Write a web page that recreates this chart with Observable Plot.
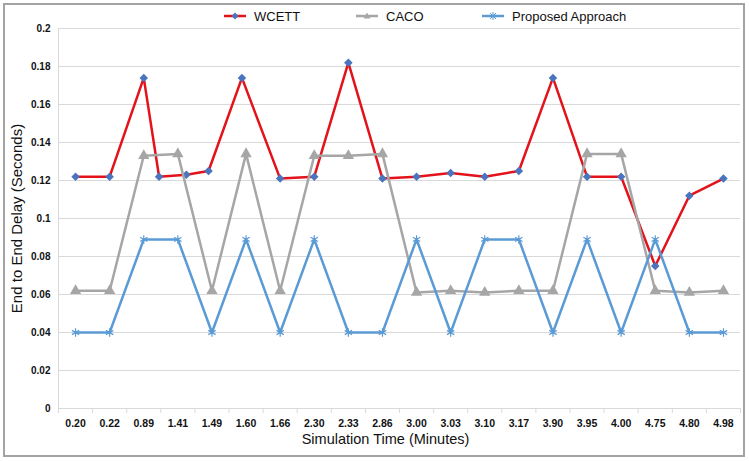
<!DOCTYPE html>
<html><head><meta charset="utf-8">
<script src="https://cdn.jsdelivr.net/npm/d3@7"></script>
<script src="https://cdn.jsdelivr.net/npm/@observablehq/plot@0.6"></script>
<style>
body{margin:0;background:#fff;}
#wrap{position:relative;width:749px;height:461px;overflow:hidden;font-family:Arial,"Liberation Sans",sans-serif;background:#fff;}
#frame{position:absolute;left:3px;top:3px;width:742px;height:454px;border:2px solid #a3a3a3;box-sizing:border-box;}
#chart{position:absolute;left:0;top:0;}
#legend{position:absolute;top:7px;left:0;width:749px;height:18px;font-size:13px;color:#111;}
.item{position:absolute;top:0;height:18px;display:flex;align-items:center;}
.item svg{margin-right:8px;}
</style></head>
<body>
<div id="wrap"><div id="frame"></div><div id="chart"></div><div id="legend"></div></div>
<script>
// ---- data ----
const times = ["0.20","0.22","0.89","1.41","1.49","1.60","1.66","2.30","2.33","2.86","3.00","3.03","3.10","3.17","3.90","3.95","4.00","4.75","4.80","4.98"];
const caco = [0.062,0.062,0.133,0.134,0.062,0.134,0.062,0.133,0.133,0.134,0.061,0.062,0.061,0.062,0.062,0.134,0.134,0.062,0.061,0.062];
const proposed = [0.04,0.04,0.089,0.089,0.04,0.089,0.04,0.089,0.04,0.04,0.089,0.04,0.089,0.089,0.04,0.089,0.04,0.089,0.04,0.04];
// WCETT has 21 points in the picture; positions along the category axis (index units)
const wcettPos = [0,1,2,2.45,3.25,3.9,4.88,6,7,8,9,10,11,12,13,14,15,16,17,18,19];
const wcett = [0.122,0.122,0.174,0.122,0.123,0.125,0.174,0.121,0.122,0.182,0.121,0.122,0.124,0.122,0.125,0.174,0.122,0.122,0.075,0.112,0.121];
const yTicks = [0,0.02,0.04,0.06,0.08,0.1,0.12,0.14,0.16,0.18,0.2];
const seriesNames = ["WCETT","CACO","Proposed Approach"];

const colors = {red:"#e3121b", diamond:"#4a74bd", gray:"#a6a6a6", blue:"#5b9bd5"};
const idx = d3.range(times.length);
const boundaries = d3.range(times.length + 1).map(i => i - 0.5);
const wData = wcett.map((v,i) => ({x: wcettPos[i], y: v}));
const cData = caco.map((v,i) => ({x: i, y: v}));
const pData = proposed.map((v,i) => ({x: i, y: v}));
const narrow = '"Liberation Sans Narrow","Arial Narrow",Arial,sans-serif';

const chart = Plot.plot({
  width: 749, height: 461,
  marginTop: 28, marginBottom: 53, marginLeft: 58, marginRight: 9,
  style: {background: "transparent", fontFamily: "Arial, 'Liberation Sans', sans-serif", color: "#111"},
  x: {domain: [-0.5, 19.5]},
  y: {domain: [0, 0.2]},
  marks: [
    Plot.gridY(yTicks, {stroke: "#d9d9d9", strokeOpacity: 1, strokeWidth: 1}),
    Plot.ruleX([-0.5], {stroke: "#d9d9d9"}),
    Plot.ruleY([0], {stroke: "#d9d9d9"}),
    Plot.axisY(yTicks, {tickSize: 0, tickPadding: 8, label: null, tickFormat: d => String(+d.toFixed(2)), fontSize: 10, fontWeight: "bold", fontFamily: narrow}),
    Plot.axisX(boundaries, {tickSize: 5, tickFormat: () => "", stroke: "#d9d9d9", label: null}),
    Plot.axisX(idx, {tickSize: 0, tickPadding: 11, label: null, tickFormat: i => times[i], fontSize: 10.5, fontWeight: "bold", fontFamily: narrow}),
    Plot.text(["Simulation Time (Minutes)"], {frameAnchor: "bottom", dy: 35, dx: -14, fontSize: 14.5, fill: "#111"}),
    Plot.text(["End to End Delay (Seconds)"], {frameAnchor: "left", textAnchor: "middle", rotate: -90, dx: -41, fontSize: 15, fill: "#111"}),
    Plot.line(wData, {x: "x", y: "y", stroke: colors.red, strokeWidth: 2.5}),
    Plot.dot(wData, {x: "x", y: "y", symbol: "square", rotate: 45, r: 3.4, fill: colors.diamond}),
    Plot.line(cData, {x: "x", y: "y", stroke: colors.gray, strokeWidth: 2.5}),
    Plot.dot(cData, {x: "x", y: "y", symbol: "triangle", r: 4.2, fill: colors.gray}),
    Plot.line(pData, {x: "x", y: "y", stroke: colors.blue, strokeWidth: 2.5}),
    Plot.dot(pData, {x: "x", y: "y", symbol: "asterisk", r: 4, stroke: colors.blue, strokeWidth: 1.2})
  ]
});
document.getElementById("chart").appendChild(chart);

// legend
const legend = document.getElementById("legend");
const items = [
  {name: seriesNames[0], left: 224, line: colors.red, mark: `<path d="M11 2.5 L14.5 6 L11 9.5 L7.5 6 Z" fill="${colors.diamond}"/>`},
  {name: seriesNames[1], left: 356, line: colors.gray, mark: `<path d="M11 2.5 L14.5 8.5 L7.5 8.5 Z" fill="${colors.gray}"/>`},
  {name: seriesNames[2], left: 482, line: colors.blue, mark: `<path d="M8 3 L14 9 M14 3 L8 9 M11 2 L11 10" stroke="${colors.blue}" stroke-width="1"/>`}
];
for (const it of items) {
  const div = document.createElement("div");
  div.className = "item";
  div.style.left = it.left + "px";
  div.innerHTML = `<svg width="22" height="12"><line x1="0" y1="6" x2="22" y2="6" stroke="${it.line}" stroke-width="2.5"/>${it.mark}</svg><span>${it.name}</span>`;
  legend.appendChild(div);
}
</script>
</body></html>
